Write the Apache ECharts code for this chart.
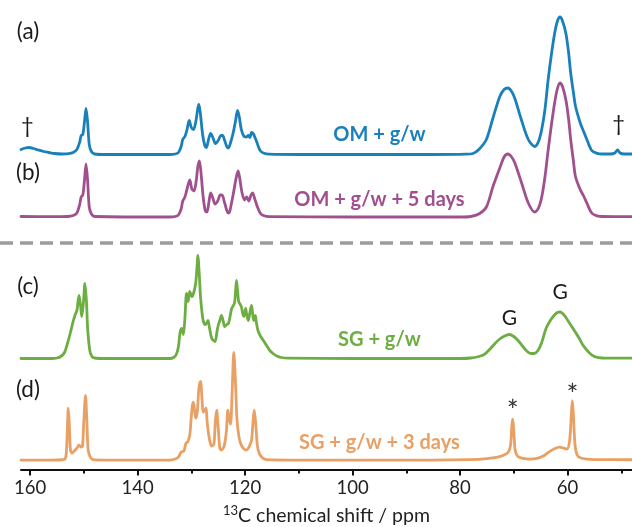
<!DOCTYPE html>
<html><head><meta charset="utf-8">
<script src="https://cdn.jsdelivr.net/npm/echarts@6/dist/echarts.min.js"></script>
<style>html,body{margin:0;padding:0;background:#fff}#c{width:632px;height:527px}</style>
</head><body><div id="c"></div>
<script>
// ---- data: [chemical shift (ppm), intensity (a.u.)] ----
const specA = [[161.7,5],[160.9,6.5],[160.2,7],[159.4,6],[158.5,4.5],[157.5,3],[156.5,2],[155.5,1],[154,0.5],[152.8,0.8],[152,2],[151.3,5],[150.8,12],[150.5,19],[150.2,20],[149.9,32],[149.6,46],[149.3,32],[149.0,10],[148.6,3],[148.0,0.5],[146,0],[140,0],[134,0],[133,0.5],[132.4,2],[131.9,8],[131.6,15],[131.2,18],[130.8,25],[130.4,34],[130.0,27],[129.6,25],[129.2,32],[128.8,46],[128.6,50],[128.3,40],[127.9,20],[127.5,9],[127.2,7],[126.8,15],[126.4,21],[126.0,17],[125.5,11],[125.0,14],[124.5,19],[124.2,19],[123.8,14],[123.4,8],[123.1,6.5],[122.7,12],[122.2,22],[121.8,33],[121.4,44],[121.1,38],[120.7,25],[120.2,18],[119.8,17.5],[119.4,19],[119.1,17],[118.8,22],[118.5,21],[118.0,15],[117.6,9],[117.2,4],[116.6,1.5],[115.5,0.3],[110,0],[100,0],[85,0],[79,0.3],[77.6,1],[76.5,5],[75.1,15],[73.9,36],[72.6,58],[71.8,65],[71.1,66.5],[70.4,63],[69.8,56],[68.6,35],[67.3,15],[66.1,8],[65.4,13],[64.8,25],[64.2,45],[63.6,75],[63.0,100],[62.4,121],[61.9,133],[61.4,137.5],[60.9,133],[60.3,121],[59.8,102],[59.4,81],[58.9,62],[58.5,48],[57.6,31],[57.0,23],[56.4,15],[55.5,4],[54.5,1.2],[53.5,0.5],[52,0.5],[51.2,1.5],[50.7,4.5],[50.2,1.5],[49.5,0.5],[48,0.5]];

const specB = [[161.7,0.5],[156,0.3],[153,0.5],[152,1.5],[151.3,4],[150.8,12],[150.5,20],[150.2,22],[149.9,36],[149.6,53],[149.3,36],[149.0,10],[148.6,3],[148,0.5],[134,0],[133,0.5],[132.4,2],[131.9,8],[131.6,16],[131.2,20],[130.8,28],[130.3,37],[129.9,28],[129.5,26],[129.1,36],[128.8,50],[128.5,56],[128.2,44],[127.8,20],[127.4,6],[127.1,5],[126.7,16],[126.4,24],[126.0,19],[125.6,13],[125.1,16],[124.6,22],[124.3,22],[123.8,14],[123.3,5],[123.0,4],[122.6,12],[122.1,26],[121.7,38],[121.3,46],[121.0,39],[120.6,25],[120.1,17],[119.7,20],[119.3,16],[118.9,22],[118.6,24],[118.2,18],[117.7,10],[117.2,4],[116.6,1.5],[115.5,0.3],[100,0],[80,0],[78,0.5],[76.5,3],[75.1,10],[73.9,30],[72.6,49],[71.8,60],[71.1,63],[70.4,60],[69.8,54],[68.6,35],[67.3,14],[66.1,5],[65.4,9],[64.8,20],[64.2,40],[63.6,67],[63.0,92],[62.4,114],[61.9,128],[61.4,134],[60.9,130],[60.3,117],[59.8,98],[59.4,77],[58.9,56],[58.5,40],[57.6,27],[57.0,21],[56.4,14],[55.5,4],[54.5,1.2],[53.5,0.5],[48,0.3]];

const specC = [[161.7,0],[156,0],[155,0.5],[154.3,2],[153.6,6],[153.0,16],[152.5,26],[152.0,37],[151.6,44],[151.3,48],[150.9,63],[150.6,52],[150.4,42],[150.1,55],[149.8,75],[149.5,55],[149.3,30],[148.9,8],[148.5,2],[148,0.5],[146,0],[134,0],[133.3,1],[132.8,4],[132.4,12],[132.1,26],[131.8,30],[131.5,24],[131.2,40],[130.9,65],[130.6,57],[130.3,67],[129.9,62],[129.6,65],[129.2,75],[128.9,95],[128.8,103],[128.5,82],[128.3,62],[128.0,45],[127.8,38],[127.5,34],[127.2,35],[126.9,38],[126.6,30],[126.2,20],[125.6,17],[125.2,28],[125.0,33],[124.7,38],[124.4,43],[124.1,38],[123.8,32],[123.4,34],[123.1,35],[122.8,42],[122.5,50],[122.0,55],[121.8,65],[121.6,78],[121.4,68],[121.2,57],[120.9,54],[120.7,52],[120.4,44],[120.2,42],[119.9,50],[119.7,44],[119.4,38],[119.1,46],[118.8,53],[118.6,45],[118.4,38],[118.1,43],[117.9,36],[117.6,28],[117.1,22],[116.6,18],[116.0,13],[115.4,8],[114.8,5],[114.1,2.5],[113.3,1],[112,0.3],[100,0],[80,0],[78,0.5],[76.5,2],[75.5,4],[74.5,9],[73.5,15],[72.5,20],[71.5,23],[70.8,24],[70.0,22],[69.2,18],[68.3,12],[67.5,7],[66.8,5],[66.2,5],[65.5,8],[64.8,16],[64.0,30],[63.2,38],[62.5,43],[61.9,46],[61.4,46.5],[60.9,45],[60.3,41],[59.7,36],[59.1,31],[58.5,26],[57.8,20],[57.2,14],[56.5,9],[55.8,5],[55.0,2],[54.2,0.8],[53,0.3],[48,0.3]];

const specD = [[161.7,0],[156,0],[154,0.3],[153.5,1],[153.25,8],[153.05,35],[152.9,52],[152.7,35],[152.5,10],[152.2,7],[151.8,9],[151.3,12],[150.9,15],[150.5,13],[150.25,14],[150.0,40],[149.7,65],[149.45,40],[149.2,10],[148.8,3],[148.3,0.5],[146,0],[134,0],[133.0,1],[132.4,3],[131.9,8],[131.4,9],[131.0,17],[130.7,18],[130.3,25],[130.0,44],[129.7,58],[129.5,55],[129.2,42],[128.9,48],[128.6,72],[128.3,79],[128.0,60],[127.8,48],[127.5,50],[127.3,52],[127.0,35],[126.6,20],[126.2,14],[125.8,16],[125.55,38],[125.3,50],[125.0,32],[124.7,12],[124.4,10],[123.9,14],[123.5,28],[123.2,50],[122.9,40],[122.7,36],[122.4,70],[122.1,108],[121.8,80],[121.5,40],[121.1,22],[120.7,15],[120.2,11],[119.7,10],[119.2,14],[118.8,20],[118.5,40],[118.3,50],[118.0,35],[117.7,14],[117.3,6],[116.7,2],[116,0.5],[110,0],[85,0],[78,0.5],[75,1.5],[73,3],[71.8,5],[71.0,8],[70.6,15],[70.35,35],[70.2,41],[70.0,30],[69.75,10],[69.3,4],[68.5,2],[67,1],[65.5,2],[64.5,4],[63.5,8],[62.5,11],[61.5,13],[60.7,12],[60.1,11],[59.6,20],[59.3,45],[59.1,59.5],[58.9,45],[58.6,15],[58.2,5],[57.5,2],[56.5,1],[55,0.5],[48,0.3]];

const majorTicks = [60, 80, 100, 120, 140, 160];
const minorTicks = [50, 70, 90, 110, 130, 150];
const traceLabels = ['OM + g/w', 'OM + g/w + 5 days', 'SG + g/w', 'SG + g/w + 3 days'];
const panelLetters = ['(a)', '(b)', '(c)', '(d)'];
const colors = ['#1a80ba', '#a0508f', '#6cae41', '#e9a064'];

// ---- layout ----
const X_MIN = 48, X_MAX = 161.7;
const FONT = 'Lato';
const grids = [
  {left: 21, right: 0, top: 9.5, height: 150},
  {left: 21, right: 0, top: 72, height: 150},
  {left: 21, right: 0, top: 238.5, height: 125},
  {left: 21, right: 0, top: 340, height: 130}
];
const yRanges = [[-5, 145], [-5, 145], [-5, 120], [-9.5, 120.5]];

function hiddenX(i) {
  return {type: 'value', gridIndex: i, min: X_MIN, max: X_MAX, inverse: true, show: false};
}
const xAxes = [hiddenX(0), hiddenX(1), hiddenX(2),
  {
    type: 'value', gridIndex: 3, position: 'bottom', min: X_MIN, max: X_MAX, inverse: true,
    splitLine: {show: false},
    axisLine: {show: true, onZero: false, lineStyle: {color: '#111', width: 2}},
    axisTick: {show: true, customValues: majorTicks, length: 6, lineStyle: {color: '#111', width: 2}},
    axisLabel: {show: true, customValues: majorTicks, margin: 9, fontFamily: FONT, fontSize: 18.5, color: '#222'},
    name: '{s|13}{t|C chemical shift / ppm}',
    nameLocation: 'middle', nameGap: 35,
    nameTextStyle: {
      rich: {
        s: {fontFamily: FONT, fontSize: 13, color: '#222', verticalAlign: 'top', lineHeight: 14},
        t: {fontFamily: FONT, fontSize: 19.5, color: '#222', lineHeight: 23}
      }
    }
  },
  {
    type: 'value', gridIndex: 3, position: 'bottom', min: X_MIN, max: X_MAX, inverse: true,
    splitLine: {show: false},
    axisLine: {show: false, onZero: false},
    axisTick: {show: true, customValues: minorTicks, length: 4, lineStyle: {color: '#111', width: 2}},
    axisLabel: {show: false}
  }
];
const yAxes = yRanges.map((r, i) => ({type: 'value', gridIndex: i, min: r[0], max: r[1], show: false}));

function txt(coord, text, style) {
  return {coord: coord, value: text, name: text,
    label: Object.assign({show: true, position: 'inside', formatter: text, fontFamily: FONT}, style)};
}
const letterStyle = {fontSize: 22.5, color: '#1a1a1a'};
function traceStyle(i) { return {fontSize: 20, fontWeight: 'bold', color: colors[i]}; }
const markerStyle = {fontSize: 22, color: '#1a1a1a'};

const annotations = [
  [txt([160.4, 122.5], panelLetters[0], letterStyle),
   txt([160.5, 29], '\u2020', markerStyle),
   txt([50.5, 31], '\u2020', markerStyle),
   txt([95, 19.5], traceLabels[0], traceStyle(0))],
  [txt([160.4, 44], panelLetters[1], letterStyle),
   txt([95, 17], traceLabels[1], traceStyle(1))],
  [txt([160.4, 71.5], panelLetters[2], letterStyle),
   txt([70.8, 40.5], 'G', {fontSize: 21, color: '#1a1a1a'}),
   txt([61.35, 65.8], 'G', {fontSize: 21, color: '#1a1a1a'}),
   txt([95, 18.5], traceLabels[2], traceStyle(2))],
  [txt([160.4, 70.5], panelLetters[3], letterStyle),
   txt([70.2, 48], '*', {fontSize: 28, color: '#333'}),
   txt([59.1, 64], '*', {fontSize: 28, color: '#333'}),
   txt([95, 17.5], traceLabels[3], traceStyle(3))]
];

const specs = [specA, specB, specC, specD];
const series = specs.map((d, i) => ({
  type: 'line', xAxisIndex: i, yAxisIndex: i, data: d,
  showSymbol: false, symbol: 'none', smooth: 0.3, animation: false, silent: true,
  lineStyle: {color: colors[i], width: 2.8, cap: 'round', join: 'round'},
  markPoint: {symbol: 'circle', symbolSize: 0, silent: true, animation: false, data: annotations[i]}
}));

const chart = echarts.init(document.getElementById('c'), null, {renderer: 'canvas'});
chart.setOption({
  backgroundColor: '#ffffff',
  animation: false,
  textStyle: {fontFamily: FONT},
  grid: grids,
  xAxis: xAxes,
  yAxis: yAxes,
  series: series,
  graphic: [{
    type: 'line', silent: true,
    shape: {x1: 0, y1: 243, x2: 632, y2: 243},
    style: {stroke: '#9c9c9c', lineWidth: 3.5, lineDash: [13, 7]}
  }]
});
</script>
</body></html>
